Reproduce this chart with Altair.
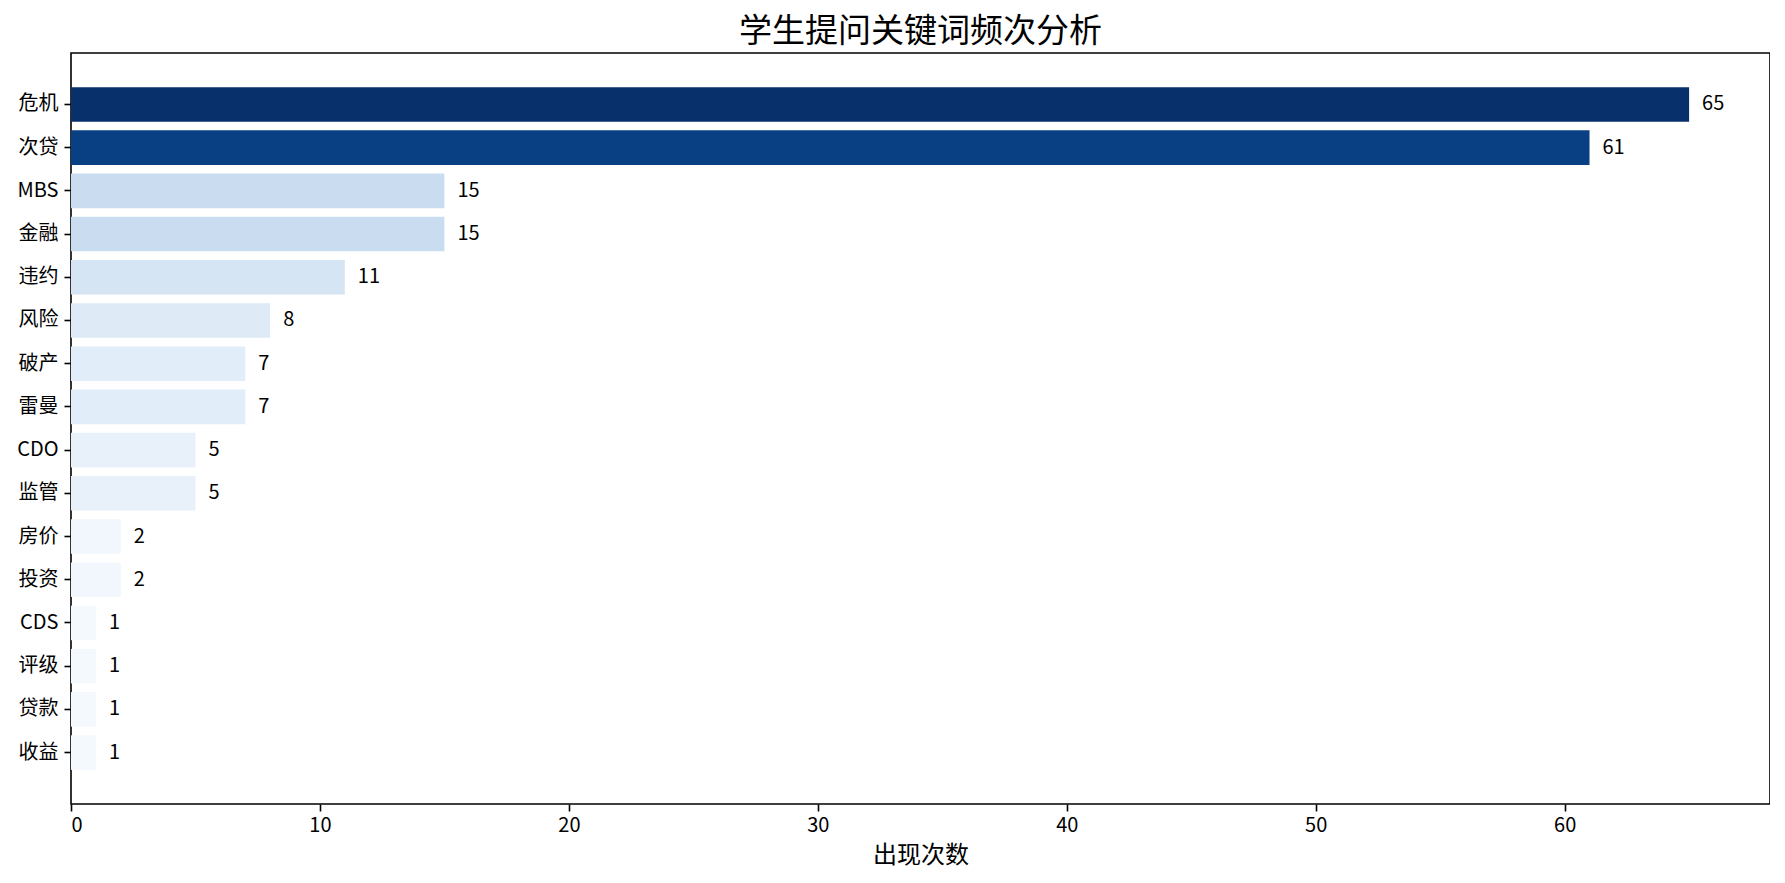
import altair as alt
import pandas as pd

# ---- data ----
keywords = ["危机", "次贷", "MBS", "金融", "违约", "风险", "破产", "雷曼",
            "CDO", "监管", "房价", "投资", "CDS", "评级", "贷款", "收益"]
counts = [65, 61, 15, 15, 11, 8, 7, 7, 5, 5, 2, 2, 1, 1, 1, 1]
x_ticks = [0, 10, 20, 30, 40, 50, 60]
title_text = "学生提问关键词频次分析"
x_title = "出现次数"

df = pd.DataFrame({"keyword": keywords, "count": counts})

# matplotlib "Blues" colormap anchors, normalised by max value
blues = ["#f7fbff", "#deebf7", "#c6dbef", "#9ecae1", "#6baed6",
         "#4292c6", "#2171b5", "#08519c", "#08306b"]
vmax = max(counts)
color_domain = [vmax * i / 8 for i in range(9)]

FONT = "Noto Sans CJK SC"
W, H = 1699, 751

y_enc = alt.Y(
    "keyword:N",
    sort=keywords,
    scale=alt.Scale(paddingInner=0.2, paddingOuter=0.79),
    axis=alt.Axis(
        title=None, labelFont=FONT, labelFontSize=20, labelColor="black",
        tickSize=7, tickWidth=1.6, tickColor="black", labelPadding=6,
        domain=False, grid=False,
    ),
)
x_enc = alt.X(
    "count:Q",
    scale=alt.Scale(domain=[0, vmax * 1.05], nice=False, zero=True),
    axis=alt.Axis(
        title=x_title, values=x_ticks, format="d", grid=False, domain=False,
        labelFont=FONT, labelFontSize=20, labelColor="black",
        tickSize=7, tickWidth=1.6, tickColor="black", labelPadding=4,
        titleFont=FONT, titleFontSize=24, titleFontWeight="normal",
        titleColor="black", titlePadding=8,
    ),
)

bars = alt.Chart(df).mark_bar().encode(
    x=x_enc,
    y=y_enc,
    color=alt.Color(
        "count:Q",
        scale=alt.Scale(domain=color_domain, range=blues, interpolate="rgb"),
        legend=None,
    ),
)

labels = alt.Chart(df).mark_text(
    align="left", baseline="middle", dx=13, fontSize=20, font=FONT, color="black"
).encode(
    x="count:Q",
    y=alt.Y("keyword:N", sort=keywords),
    text="count:Q",
)

chart = (bars + labels).properties(
    width=W,
    height=H,
    title=alt.TitleParams(
        text=title_text, font=FONT, fontSize=33, fontWeight="normal",
        color="black", anchor="middle", offset=4,
    ),
    autosize=alt.AutoSizeParams(type="none"),
    padding={"left": 63, "top": 45, "right": 0, "bottom": 70},
).configure_view(
    stroke="black", strokeWidth=1.6
)

chart.save("out.html", embed_options={"renderer": "svg", "actions": False})
